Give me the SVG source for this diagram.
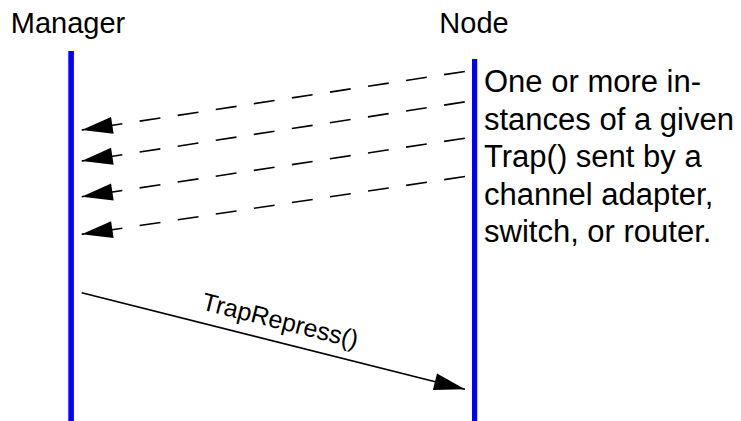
<svg xmlns="http://www.w3.org/2000/svg" width="741" height="421" viewBox="0 0 741 421">
<style>
  text { font-family: "Liberation Sans", Arial, sans-serif; fill: #000; }
  .hdr { font-size: 29px; text-anchor: middle; }
  .note { font-size: 31px; }
  .lbl { font-size: 25px; text-anchor: middle; }
  .life { fill: #0000ff; }
  .dash { stroke: #000; stroke-width: 1.6; fill: none; stroke-dasharray: 21 17.5; stroke-dashoffset: 18.4; marker-start: url(#headStart); }
  .solid { stroke: #000; stroke-width: 1.6; fill: none; marker-end: url(#headEnd); }
</style>
<defs>
  <marker id="headStart" markerUnits="userSpaceOnUse" orient="auto" markerWidth="40" markerHeight="20" refX="0" refY="10" viewBox="0 0 40 20" overflow="visible">
    <path d="M0,10 L31,1.5 L31,18.5 Z" fill="#000"/>
  </marker>
  <marker id="headEnd" markerUnits="userSpaceOnUse" orient="auto" markerWidth="40" markerHeight="20" refX="40" refY="10" viewBox="0 0 40 20" overflow="visible">
    <path d="M40,10 L9,1.5 L9,18.5 Z" fill="#000"/>
  </marker>
</defs>
<g id="manager">
  <text class="hdr" x="68" y="33">Manager</text>
  <rect class="life" x="68.3" y="51" width="5.6" height="370"/>
</g>
<g id="node">
  <text class="hdr" x="474" y="33">Node</text>
  <rect class="life" x="472" y="59" width="5.2" height="362"/>
</g>
<g id="note">
  <text class="note" x="484" y="92">One or more in-</text>
  <text class="note" x="484" y="129.5">stances of a given</text>
  <text class="note" x="484" y="167">Trap() sent by a</text>
  <text class="note" x="484" y="204.5">channel adapter,</text>
  <text class="note" x="484" y="242">switch, or router.</text>
</g>
<g id="connectors">
  <path class="dash" d="M81.7,130 L466,71.3"/>
  <path class="dash" d="M81.7,161 L466,101.7"/>
  <path class="dash" d="M81.7,196.7 L466,138"/>
  <path class="dash" d="M81.7,234.3 L466,176.3"/>
  <path class="solid" d="M81.7,292.7 L465,389.3"/>
  <text class="lbl" transform="translate(275,341.4) rotate(14.15)" x="0" y="-13">TrapRepress()</text>
</g>
</svg>
